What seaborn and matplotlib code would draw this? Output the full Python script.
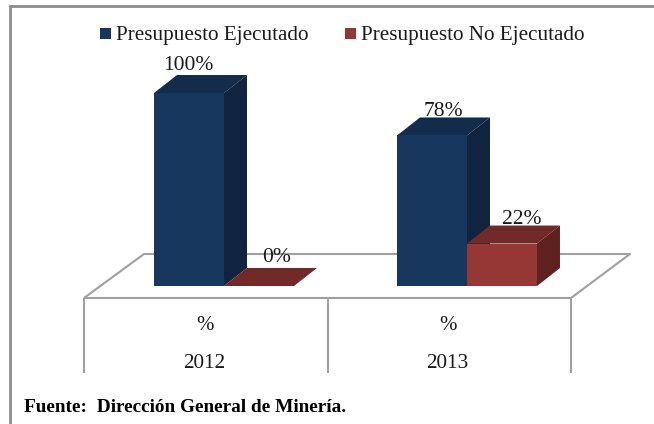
import matplotlib
matplotlib.use("Agg")
import matplotlib.pyplot as plt
import pandas as pd
import seaborn as sns
from matplotlib.patches import Polygon, Rectangle

years = ["2012", "2013"]
ejecutado = [100, 78]
no_ejecutado = [0, 22]
series_names = ["Presupuesto Ejecutado", "Presupuesto No Ejecutado"]
unit_label = "%"
source_text = "Fuente:  Dirección General de Minería."

FRONT = ["#17375E", "#953735"]
TOP = ["#142C4B", "#722A28"]
SIDE = ["#10243F", "#5F2120"]

W, H = 654, 424
sns.set_theme(style="white")
plt.rcParams["font.family"] = ["Liberation Serif", "DejaVu Serif"]

df = pd.DataFrame({
    "year": years * 2,
    "serie": [series_names[0]] * 2 + [series_names[1]] * 2,
    "valor": ejecutado + no_ejecutado,
})

fig = plt.figure(figsize=(W / 100, H / 100), dpi=100)
ax = fig.add_axes([0, 0, 1, 1])
sns.barplot(data=df, x="year", y="valor", hue="serie", order=years,
            hue_order=series_names, palette=FRONT, width=0.576, gap=0,
            saturation=1, legend=False, ax=ax, zorder=4, linewidth=0, edgecolor="none")
# pixel calibration: category centres at 224 and 467, value 0 at 286, 100 at 93
px_x = lambda p: (p - 224) / 243
px_y = lambda p: (286 - p) * 100 / 193
ax.set_xlim(px_x(0), px_x(W))
ax.set_ylim(px_y(H), px_y(0))
ax.axis("off")

dx = 23 / 243
dy = 18 * 100 / 193
line = dict(color="#A0A0A0", lw=1.5, solid_capstyle="butt")

# frame
ax.plot([px_x(10), px_x(10)], [px_y(6), px_y(H)], color="#8C8C8C", lw=2, zorder=1)
ax.plot([px_x(10), px_x(W)], [px_y(6), px_y(6)], color="#8C8C8C", lw=2, zorder=1)

# floor and category table
ax.plot([px_x(84), px_x(144), px_x(630), px_x(571), px_x(84)],
        [px_y(298), px_y(254), px_y(254), px_y(298), px_y(298)], zorder=2, **line)
for p in (84, 328, 571):
    ax.plot([px_x(p), px_x(p)], [px_y(298), px_y(373)], zorder=2, **line)

# value-label placement in pixels: (x shift from bar centre, y centre)
label_pos = [(-1, 65), (11, 112), (18, 257), (20, 220)]

# 3-D faces built from each seaborn bar
bars = [b for b in ax.patches if isinstance(b, Rectangle)]
for i, b in enumerate(bars):
    k = i // 2
    x0, x1 = b.get_x(), b.get_x() + b.get_width()
    h = b.get_height()
    ax.add_patch(Polygon([(x0, h), (x1, h), (x1 + dx, h + dy), (x0 + dx, h + dy)],
                         facecolor=TOP[k], edgecolor="none", zorder=4 - 0.1 * (1 - k)))
    ax.add_patch(Polygon([(x1, 0), (x1 + dx, dy), (x1 + dx, h + dy), (x1, h)],
                         facecolor=SIDE[k], edgecolor="none", zorder=4 - 0.1 * (1 - k)))
    b.set_zorder(4.2)
    sx, py = label_pos[i]
    ax.text((x0 + x1) / 2 + sx / 243, px_y(py), f"{h:.0f}%", ha="center", va="center",
            fontsize=15.5, color="#1A1A1A", zorder=6)

for i, y in enumerate(years):
    ax.text(i - 0.08, px_y(325), unit_label, ha="center", va="center", fontsize=15, color="#1A1A1A")
    ax.text(i - 0.08, px_y(363), y, ha="center", va="center", fontsize=15.3, color="#1A1A1A")

# legend
for name, col, sx, tx in zip(series_names, FRONT, (100, 345), (116, 361)):
    ax.add_patch(Rectangle((px_x(sx), px_y(39)), 11 / 243, 11 * 100 / 193, facecolor=col,
                           edgecolor="none", zorder=5))
    ax.text(px_x(tx), px_y(36), name, ha="left", va="center", fontsize=15.2, color="#1A1A1A")

ax.text(px_x(24), px_y(407), source_text, ha="left", va="center", fontsize=13.9,
        fontweight="bold", color="black")

fig.savefig("out.png", dpi=100)
